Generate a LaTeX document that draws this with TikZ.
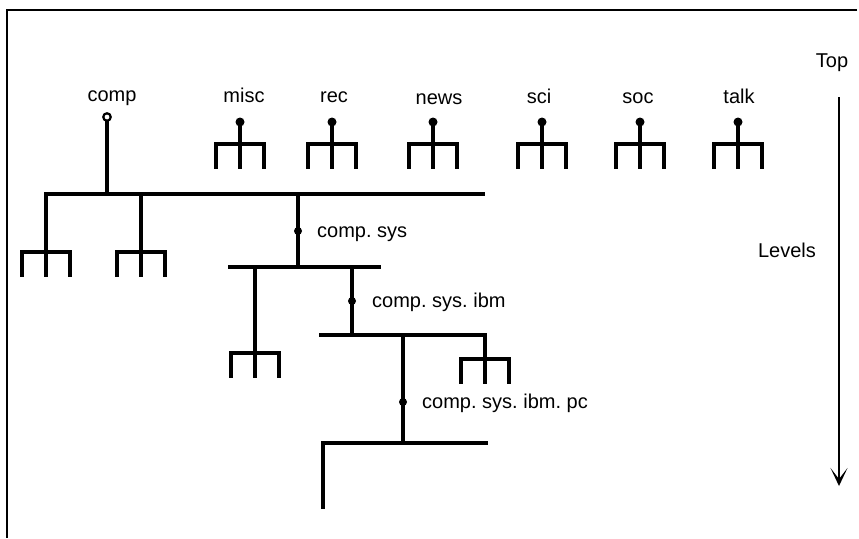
\documentclass[tikz,border=0pt]{standalone}
\usepackage{fontspec}
\setmainfont{Liberation Sans}
\usetikzlibrary{arrows.meta}
\tikzset{
  x=1pt,y=-1pt,
  treeline/.style={line width=3.2pt,line cap=rect,line join=miter},
  frameline/.style={line width=1.6pt},
  lbl/.style={font=\fontsize{20}{24}\selectfont,inner sep=0pt},
  filldot/.style={circle,fill=black,inner sep=0pt,minimum size=9pt},
  opendot/.style={circle,draw=black,line width=2.2pt,fill=white,inner sep=0pt,minimum size=7.5pt},
  smalldot/.style={circle,fill=black,inner sep=0pt,minimum size=8pt},
  fork/.pic={
    \draw[treeline] (-24,23) -- (-24,0) -- (24,0) -- (24,23);
    \draw[treeline] (0,0) -- (0,23);
  }
}
\begin{document}
\begin{tikzpicture}
\useasboundingbox (0,0) rectangle (859,538);
% frame (top and left edges)
\coordinate (fTR) at (857,10);
\coordinate (fTL) at (7,10);
\coordinate (fBL) at (7,538);
\draw[frameline] (fTR) -- (fTL) -- (fBL);

% ---- top-level labels
\node[lbl,anchor=base] (lcomp) at (112,101) {comp};
\node[lbl,anchor=base] (lmisc) at (244,102) {misc};
\node[lbl,anchor=base] (lrec)  at (334,102) {rec};
\node[lbl,anchor=base] (lnews) at (439,104) {news};
\node[lbl,anchor=base] (lsci)  at (539,103) {sci};
\node[lbl,anchor=base] (lsoc)  at (638,103) {soc};
\node[lbl,anchor=base] (ltalk) at (739,103) {talk};

% ---- top-level collapsed forks
\foreach \n/\x in {misc/240,rec/332,news/433,sci/542,soc/640,talk/738}{
  \coordinate (\n bar) at (\x,144);
  \draw[treeline] (\x,122) -- (\n bar);
  \pic at (\n bar) {fork};
  \node[filldot] (\n dot) at (\x,122) {};
}

% ---- comp subtree
\coordinate (compbar) at (107,194);
\coordinate (barL) at (46,194);
\coordinate (barR) at (483,194);
\node[opendot] (compdot) at (107,117) {};
\draw[treeline] (compdot.south) -- (compbar);
\draw[treeline] (barL) -- (barR);

% two collapsed forks on the left
\coordinate (f1) at (46,252);
\coordinate (f2) at (141,252);
\coordinate (f2top) at (141,194);
\draw[treeline] (barL) -- (f1);
\draw[treeline] (f2top) -- (f2);
\pic at (f1) {fork};
\pic at (f2) {fork};

% comp.sys
\coordinate (systop) at (298,194);
\coordinate (sysbot) at (298,267);
\draw[treeline] (systop) -- (sysbot);
\node[smalldot] (sysdot) at (298,231) {};
\node[lbl,anchor=base west] (lsys) at (317,237) {comp.\ sys};
\coordinate (bar2L) at (230,267);
\coordinate (bar2R) at (379,267);
\draw[treeline] (bar2L) -- (bar2R);

% fork under comp.sys
\coordinate (f3top) at (255,267);
\coordinate (f3) at (255,353);
\draw[treeline] (f3top) -- (f3);
\pic at (f3) {fork};

% comp.sys.ibm
\coordinate (ibmtop) at (352,267);
\coordinate (ibmbot) at (352,335);
\draw[treeline] (ibmtop) -- (ibmbot);
\node[smalldot] (ibmdot) at (352,301) {};
\node[lbl,anchor=base west] (libm) at (372,307) {comp.\ sys.\ ibm};
\coordinate (bar3L) at (321,335);
\coordinate (bar3R) at (485,335);
\draw[treeline] (bar3L) -- (bar3R);

% fork at right end of comp.sys.ibm bar
\coordinate (f4) at (485,359);
\draw[treeline] (bar3R) -- (f4);
\pic at (f4) {fork};

% comp.sys.ibm.pc
\coordinate (pctop) at (403,335);
\coordinate (pcbot) at (403,443);
\draw[treeline] (pctop) -- (pcbot);
\node[smalldot] (pcdot) at (403,402) {};
\node[lbl,anchor=base west] (lpc) at (422,408) {comp.\ sys.\ ibm.\ pc};
\coordinate (bar4L) at (323,443);
\coordinate (bar4R) at (486,443);
\coordinate (bar4end) at (323,507);
\draw[treeline] (bar4end) -- (bar4L) -- (bar4R);

% ---- levels arrow
\node[lbl,anchor=base] (ltop) at (832,67) {Top};
\node[lbl,anchor=base] (llev) at (787,257) {Levels};
\coordinate (arrtop) at (839,97);
\coordinate (arrtip) at (839,486);
\draw[line width=2.2pt,-{Stealth[length=18pt,width=17pt,inset=11pt]}] (arrtop) -- (arrtip);
\end{tikzpicture}
\end{document}
